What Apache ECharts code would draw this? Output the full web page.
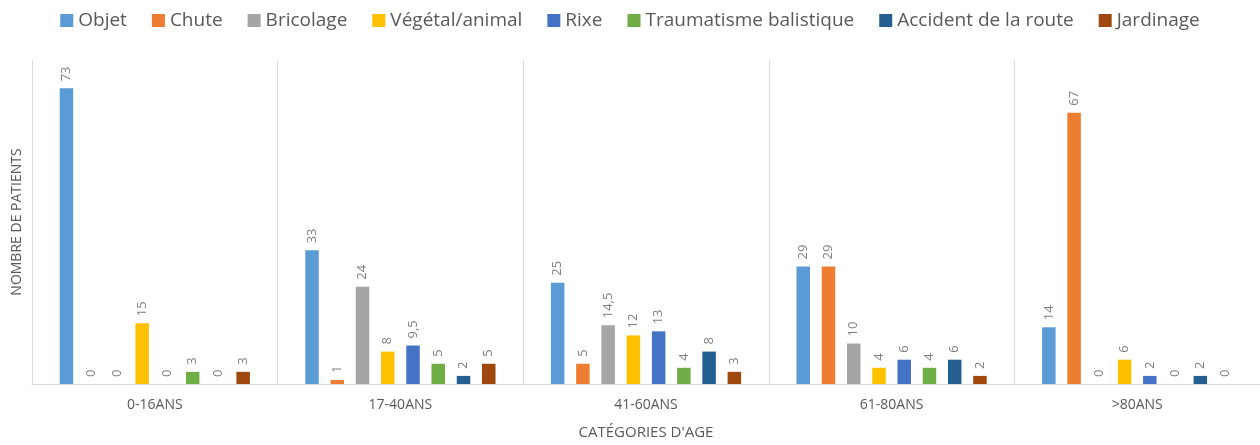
<!DOCTYPE html>
<html>
<head>
<meta charset="UTF-8">
<title>Catégories d'age</title>
<script src="https://cdn.jsdelivr.net/npm/echarts@6/dist/echarts.min.js"></script>
<style>
  html, body { margin: 0; padding: 0; background: #fff; }
  #chart { width: 1260px; height: 445px; }
</style>
</head>
<body>
<div id="chart"></div>
<script>
// catégories et séries
var categories = ['0-16ANS', '17-40ANS', '41-60ANS', '61-80ANS', '>80ANS'];
var seriesNames = ['Objet', 'Chute', 'Bricolage', 'Végétal/animal', 'Rixe', 'Traumatisme balistique', 'Accident de la route', 'Jardinage'];
var objet = [73, 33, 25, 29, 14];
var chute = [0, 1, 5, 29, 67];
var bricolage = [0, 24, 14.5, 10, 0];
var vegetal = [15, 8, 12, 4, 6];
var rixe = [0, 9.5, 13, 6, 2];
var balistique = [3, 5, 4, 4, 0];
var route = [0, 2, 8, 6, 2];
var jardinage = [3, 5, 3, 2, 0];
var colors = ['#5B9BD5', '#ED7D31', '#A5A5A5', '#FFC000', '#4472C4', '#70AD47', '#255E91', '#9E480E'];

var allData = [objet, chute, bricolage, vegetal, rixe, balistique, route, jardinage];
var font = '"Open Sans", sans-serif';

var series = [];
for (var i = 0; i < seriesNames.length; i++) {
  series.push({
    name: seriesNames[i],
    type: 'bar',
    data: allData[i],
    barWidth: 13.5,
    barGap: '87%',
    itemStyle: { color: colors[i] },
    label: {
      show: true,
      position: 'top',
      rotate: 90,
      align: 'left',
      verticalAlign: 'middle',
      distance: 7,
      color: '#7f7f7f',
      fontSize: 13,
      fontFamily: font,
      formatter: function (p) { return String(p.value).replace('.', ','); }
    }
  });
}

var myChart = echarts.init(document.getElementById('chart'));
myChart.setOption({
  animation: false,
  color: colors,
  legend: {
    top: 6,
    left: 'center',
    itemWidth: 13,
    itemHeight: 13,
    itemGap: 25,
    icon: 'rect',
    textStyle: { color: '#595959', fontSize: 19, fontFamily: font },
    data: seriesNames
  },
  grid: { left: 32, right: -7, top: 60, bottom: 58 },
  xAxis: {
    type: 'category',
    data: categories,
    name: "CATÉGORIES D'AGE",
    nameLocation: 'middle',
    nameGap: 41,
    nameTextStyle: { color: '#595959', fontSize: 15, fontFamily: font },
    axisLine: { lineStyle: { color: '#d9d9d9', width: 1 } },
    axisTick: { show: false },
    axisLabel: { color: '#595959', fontSize: 14, fontFamily: font, margin: 14 },
    splitLine: { show: true, lineStyle: { color: '#d9d9d9', width: 1 } }
  },
  yAxis: {
    type: 'value',
    min: 0,
    max: 80,
    name: 'NOMBRE DE PATIENTS',
    nameLocation: 'middle',
    nameGap: 8,
    nameTextStyle: { color: '#595959', fontSize: 14, fontFamily: font },
    axisLine: { show: false },
    axisTick: { show: false },
    axisLabel: { show: false },
    splitLine: { show: false }
  },
  series: series
});
</script>
</body>
</html>
